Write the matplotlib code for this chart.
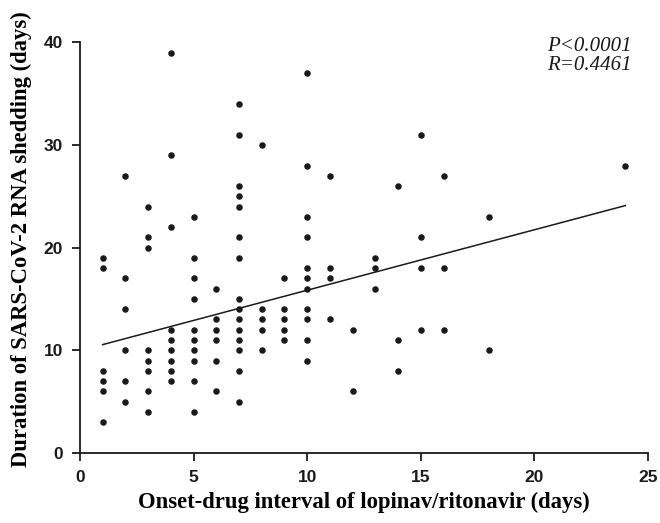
import numpy as np
import matplotlib
matplotlib.use('Agg')
import matplotlib.pyplot as plt

# onset-drug interval (days) -> shedding durations (days) observed at that interval
interval_days = [1, 2, 3, 4, 5, 6, 7, 8, 9, 10, 11, 12, 13, 14, 15, 16, 18, 24]
shedding_days = [
    [19, 18, 8, 7, 6, 3],
    [27, 17, 14, 10, 7, 5],
    [24, 21, 20, 10, 9, 8, 6, 4],
    [39, 29, 22, 12, 11, 10, 9, 8, 7],
    [23, 19, 17, 15, 12, 11, 10, 9, 7, 4],
    [16, 13, 12, 11, 9, 6],
    [34, 31, 26, 25, 24, 21, 19, 15, 14, 13, 12, 11, 10, 8, 5],
    [30, 14, 13, 12, 10],
    [17, 14, 13, 12, 11],
    [37, 28, 23, 21, 18, 17, 16, 14, 13, 11, 9],
    [27, 18, 17, 13],
    [12, 6],
    [19, 18, 16],
    [26, 11, 8],
    [31, 21, 18, 12],
    [27, 18, 12],
    [23, 10],
    [28],
]

# regression line as drawn in the figure
fit_x = [1, 24]
fit_y = [10.55, 24.1]

p_text = 'P<0.0001'
r_text = 'R=0.4461'

xs = np.concatenate([[x] * len(v) for x, v in zip(interval_days, shedding_days)])
ys = np.concatenate(shedding_days)

fig = plt.figure(figsize=(6.6, 5.23), dpi=100)
ax = fig.add_axes([0.121, 0.134, 0.861, 0.785])

ax.scatter(xs, ys, s=22, color='#1a1a1a', linewidths=0, zorder=3)
ax.plot(fit_x, fit_y, color='#1a1a1a', lw=1.1)

ax.set_xlim(0, 25)
ax.set_ylim(0, 40)
ax.set_xticks([0, 5, 10, 15, 20, 25])
ax.set_yticks([0, 10, 20, 30, 40])

for side in ['top', 'right']:
    ax.spines[side].set_visible(False)
for side in ['left', 'bottom']:
    ax.spines[side].set_linewidth(1.3)
    ax.spines[side].set_color('#1a1a1a')

ax.tick_params(direction='out', length=6, width=1.3, pad=6, color='#1a1a1a')
for lab in ax.get_xticklabels() + ax.get_yticklabels():
    lab.set_family('Liberation Sans')
    lab.set_fontweight('bold')
    lab.set_fontsize(12.5)
    lab.set_color('#1a1a1a')

ax.set_xlabel('Onset-drug interval of lopinav/ritonavir (days)',
              family='Liberation Serif', fontweight='bold', fontsize=16.3, labelpad=5)
ax.set_ylabel('Duration of SARS-CoV-2 RNA shedding (days)',
              family='Liberation Serif', fontweight='bold', fontsize=16.3, labelpad=8)
ax.yaxis.set_label_coords(-0.085, 0.52)

ax.text(0.972, 1.012, p_text + '\n' + r_text, transform=ax.transAxes,
        ha='right', va='top', family='Liberation Serif', style='italic',
        fontsize=15, linespacing=0.95, color='#1a1a1a')

fig.savefig('out.png', dpi=100)
